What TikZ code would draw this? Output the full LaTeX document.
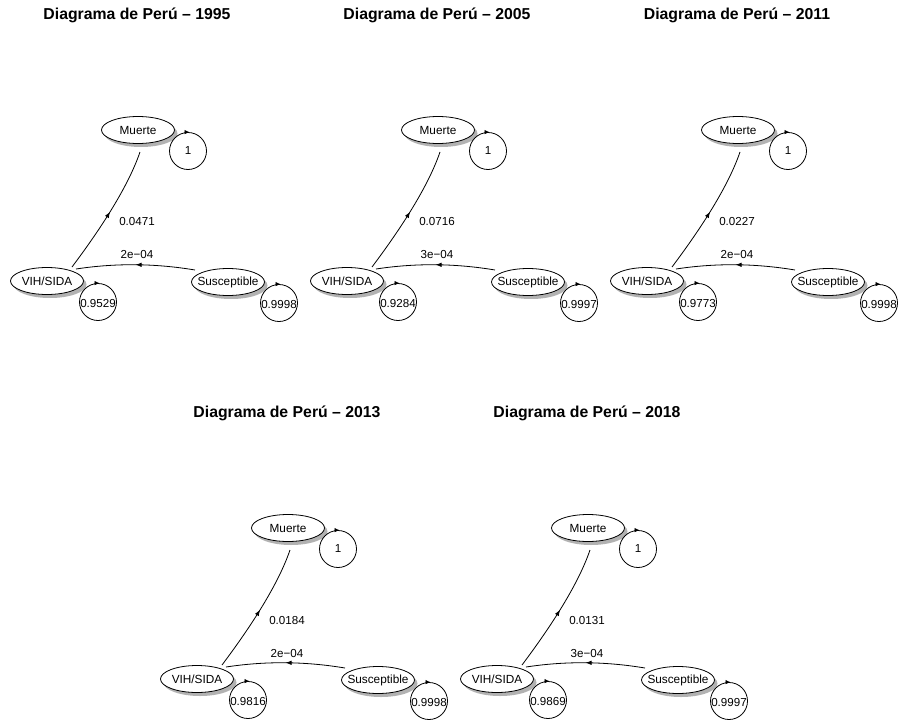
\documentclass[tikz,border=0pt]{standalone}
\usepackage{fontspec}
\setmainfont{Liberation Sans}
\usetikzlibrary{shapes.geometric,shadows,arrows.meta,decorations.markings}

\tikzset{
  titletext/.style={font=\fontsize{15.8}{18}\selectfont\bfseries, inner sep=0pt},
  stateell/.style={ellipse, draw, line width=0.8pt, fill=white,
    minimum width=73pt, minimum height=27pt, inner sep=0pt,
    drop shadow={shadow xshift=3pt, shadow yshift=-3.5pt, opacity=1, fill=black!30}},
  statetext/.style={font=\fontsize{11.8}{13}\selectfont, inner sep=0pt},
  loopring/.style={circle, draw, line width=0.8pt, minimum size=37pt, inner sep=0pt},
  lbl/.style={font=\fontsize{11.6}{13}\selectfont, inner sep=0pt},
  edge/.style={line width=0.8pt,
    postaction={decorate, decoration={markings,
      mark=at position 0.5 with {\arrow{Latex[length=6pt,width=4.5pt]}}}}},
  looptip/.style={line width=0.8pt, -{Latex[length=5pt,width=4.5pt]}}
}

% One chain diagram: id, x offset, y offset, year,
% VIH->Muerte, Susceptible->VIH, VIH->VIH, Susceptible->Susceptible
\newcommand\markovpanel[8]{%
  \begin{scope}[shift={(#2,#3)}]
    \node[titletext] (t#1) at (137,15) {Diagrama de Perú – #4};
    % states
    \node[stateell, label={[statetext]center:Muerte}] (m#1) at (138,130) {};
    \node[stateell, label={[statetext]center:VIH/SIDA}] (v#1) at (47,281) {};
    \node[stateell, label={[statetext]center:Susceptible}] (s#1) at (228,282) {};
    % self loops
    \node[loopring] (lm#1) at (188,151) {};
    \node[loopring] (lv#1) at (98,302) {};
    \node[loopring] (ls#1) at (279,303) {};
    \draw[looptip] ([xshift=-3pt]lm#1.north) -- ([xshift=1.5pt]lm#1.north);
    \draw[looptip] ([xshift=-3pt]lv#1.north) -- ([xshift=1.5pt]lv#1.north);
    \draw[looptip] ([xshift=-3pt]ls#1.north) -- ([xshift=1.5pt]ls#1.north);
    \node[lbl] at (lm#1) {1};
    \node[lbl] at ([yshift=-1.5pt]lv#1.center) {#7};
    \node[lbl] at ([yshift=-1.5pt]ls#1.center) {#8};
    % edge end points
    \coordinate (va#1) at (72,267);
    \coordinate (mb#1) at (140,152);
    \coordinate (sa#1) at (195,270);
    \coordinate (vb#1) at (76,269);
    % transitions
    \draw[edge] (va#1) .. controls (96,235) and (127,190) .. (mb#1);
    \draw[edge] (sa#1) .. controls (154.7,263.3) and (115.3,263) .. (vb#1);
    \node[lbl] (lvm#1) at (137,222) {#5};
    \node[lbl] (lsv#1) at (137,255) {#6};
  \end{scope}}

\begin{document}
\begin{tikzpicture}[x=1pt,y=-1pt]
  \useasboundingbox (0,0) rectangle (899,720);
  \markovpanel{a}{0}{0}{1995}{0.0471}{2e−04}{0.9529}{0.9998}
  \markovpanel{b}{300}{0}{2005}{0.0716}{3e−04}{0.9284}{0.9997}
  \markovpanel{c}{600}{0}{2011}{0.0227}{2e−04}{0.9773}{0.9998}
  \markovpanel{d}{150}{398}{2013}{0.0184}{2e−04}{0.9816}{0.9998}
  \markovpanel{e}{450}{398}{2018}{0.0131}{3e−04}{0.9869}{0.9997}
\end{tikzpicture}
\end{document}
